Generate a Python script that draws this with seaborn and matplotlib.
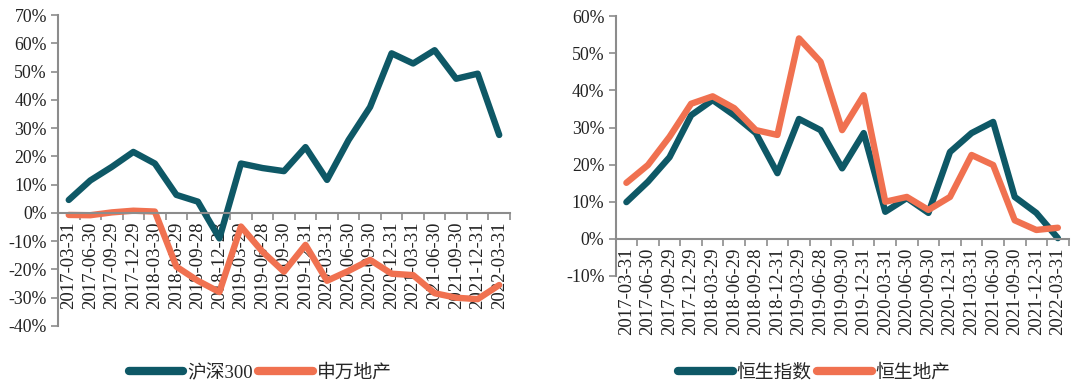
import matplotlib
matplotlib.use("Agg")
import matplotlib.pyplot as plt
import seaborn as sns
from matplotlib.ticker import FixedLocator, FuncFormatter

# --- data (percent) ---
dates_a = ["2017-03-31", "2017-06-30", "2017-09-29", "2017-12-29", "2018-03-30",
           "2018-06-29", "2018-09-28", "2018-12-28", "2019-03-29", "2019-06-28",
           "2019-09-30", "2019-12-31", "2020-03-31", "2020-06-30", "2020-09-30",
           "2020-12-31", "2021-03-31", "2021-06-30", "2021-09-30", "2021-12-31",
           "2022-03-31"]
hs300 = [4.6, 11.5, 16.3, 21.6, 17.5, 6.4, 4.0, -9.0, 17.5, 15.9, 14.8,
         23.3, 11.7, 25.8, 37.5, 56.5, 52.9, 57.6, 47.5, 49.3, 27.6]
sw_realty = [-0.7, -0.8, 0.2, 0.8, 0.5, -19.0, -24.0, -28.0, -4.8, -13.7, -20.8,
             -11.3, -24.0, -20.5, -16.6, -21.5, -22.0, -28.4, -30.0, -30.5, -25.5]

dates_b = ["2017-03-31", "2017-06-30", "2017-09-29", "2017-12-29", "2018-03-29",
           "2018-06-29", "2018-09-28", "2018-12-31", "2019-03-29", "2019-06-28",
           "2019-09-30", "2019-12-31", "2020-03-31", "2020-06-30", "2020-09-30",
           "2020-12-31", "2021-03-31", "2021-06-30", "2021-09-30", "2021-12-31",
           "2022-03-31"]
hsi = [9.9, 15.4, 22.0, 33.3, 37.4, 33.3, 28.5, 17.7, 32.3, 29.3, 19.0,
       28.5, 7.3, 11.0, 7.0, 23.4, 28.5, 31.5, 11.3, 7.0, 0.2]
hs_realty = [15.1, 19.9, 27.5, 36.4, 38.4, 35.2, 29.3, 28.0, 54.0, 47.7, 29.3,
             38.7, 10.0, 11.3, 7.8, 11.3, 22.6, 19.9, 5.0, 2.4, 3.0]

TEAL = "#0e5866"
ORANGE = "#f07150"
SPINE = "#8c8c8c"

sns.set_theme(style="white")
plt.rcParams["font.family"] = ["Liberation Serif", "Noto Sans CJK SC", "DejaVu Sans"]

fig = plt.figure(figsize=(10.8, 3.89), dpi=100)
ax1 = fig.add_axes([0.0537, 0.162, 0.4185, 0.799])
ax2 = fig.add_axes([0.570, 0.2905, 0.4195, 0.668])


def draw_panel(ax, dates, s1, s2, names, ylim, legend_x):
    sns.lineplot(x=dates, y=s1, ax=ax, color=TEAL, linewidth=4.6, label=names[0],
                 sort=False, solid_joinstyle="round", solid_capstyle="round")
    sns.lineplot(x=dates, y=s2, ax=ax, color=ORANGE, linewidth=4.6, label=names[1],
                 sort=False, solid_joinstyle="round", solid_capstyle="round")
    n = len(dates)
    ax.set_xlim(-0.5, n - 0.5)
    ax.set_ylim(*ylim)
    ax.set_yticks(range(ylim[0], ylim[1] + 1, 10))
    ax.yaxis.set_major_formatter(FuncFormatter(lambda v, p: f"{v:.0f}%"))
    ax.set_xticks(range(n))
    ax.set_xticklabels(dates)
    ax.xaxis.set_minor_locator(FixedLocator([i - 0.5 for i in range(n + 1)]))
    ax.tick_params(axis="x", which="major", length=0, pad=6, labelsize=13.5,
                   labelrotation=90, colors="#222222")
    ax.tick_params(axis="x", which="minor", length=5, width=1.2, color=SPINE,
                   direction="out", bottom=True)
    ax.tick_params(axis="y", length=5, width=1.2, color=SPINE, direction="out",
                   left=True, pad=3, labelsize=12.8, labelcolor="#222222")
    for side in ["top", "right"]:
        ax.spines[side].set_visible(False)
    ax.spines["bottom"].set_position(("data", 0))
    for side in ["left", "bottom"]:
        ax.spines[side].set_color(SPINE)
        ax.spines[side].set_linewidth(1.5)
    ax.set_xlabel("")
    ax.set_ylabel("")
    ax.legend(loc="center", bbox_to_anchor=(legend_x, 0.041),
              bbox_transform=fig.transFigure, ncol=2, frameon=False,
              handlelength=2.9, handletextpad=0.2, columnspacing=0.3,
              prop={"size": 13.5})
    for h in ax.get_legend().get_lines():
        h.set_linewidth(6)


draw_panel(ax1, dates_a, hs300, sw_realty, ["沪深300", "申万地产"], (-40, 70), 0.241)
draw_panel(ax2, dates_b, hsi, hs_realty, ["恒生指数", "恒生地产"], (-10, 60), 0.754)

fig.savefig("out.png", dpi=100)
